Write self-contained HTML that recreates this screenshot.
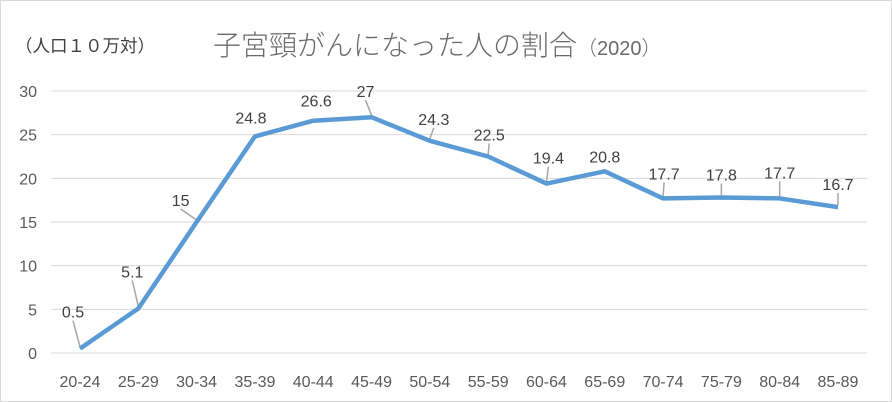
<!DOCTYPE html>
<html><head><meta charset="utf-8"><style>
body{margin:0;background:#fff;}
svg{display:block;font-family:"Liberation Sans","Noto Sans CJK JP",sans-serif;}
</style></head><body>
<svg id="c" width="892" height="402">
<rect x="0.5" y="0.5" width="891" height="401" fill="#fff" stroke="#d9d9d9"/>
<text x="15" y="52" font-size="17.5" fill="#404040">（人口１０万対）</text>
<text x="213" y="55" font-size="28" fill="#6a6a6a" font-weight="300">子宮頸がんになった人の割合<tspan font-size="20">（2020）</tspan></text>
<g id="grid"></g><g id="ylab"></g><g id="xlab"></g><g id="leaders"></g>
<path id="line" fill="none" stroke="#5b9bd5" stroke-width="4.5" stroke-linejoin="round"/>
<g id="vals"></g>
</svg>
<script>
const categories=["20-24","25-29","30-34","35-39","40-44","45-49","50-54","55-59","60-64","65-69","70-74","75-79","80-84","85-89"];
const values=[0.5,5.1,15,24.8,26.6,27,24.3,22.5,19.4,20.8,17.7,17.8,17.7,16.7];
const yTicks=[0,5,10,15,20,25,30];
const labelDx=[-7,-6,-16,-4,3,-6,4,1,2,0,1,0,0,0];
const labelDy=[-37,-37,-22,-19,-20,-26,-22,-22,-26,-15,-25,-23,-26,-23];
const NS="http://www.w3.org/2000/svg";
const x=i=>80+i*(838-80)/13, y=v=>353-v*(353-91)/30;
function mk(t,a,p){const e=document.createElementNS(NS,t);for(const k in a)e.setAttribute(k,a[k]);document.getElementById(p).appendChild(e);return e;}
yTicks.forEach(t=>{
 const g=mk('line',{x1:51,x2:867,y1:y(t),y2:y(t),stroke:'#d9d9d9','stroke-width':1},'grid');
 
 
 const l=mk('text',{x:37,y:y(t)+6,'font-size':16,fill:'#595959','text-anchor':'end'},'ylab');l.textContent=t;
 
 
});
categories.forEach((c,i)=>{
 const l=mk('text',{x:x(i),y:387,'font-size':16,fill:'#595959','text-anchor':'middle'},'xlab');l.textContent=c;
 
 
});
document.getElementById('line').setAttribute('d',values.map((v,i)=>(i?'L':'M')+x(i)+','+y(v)).join(''));
values.forEach((v,i)=>{
 const px=x(i),py=y(v),lx=px+labelDx[i],ly=py+labelDy[i];
 if(labelDy[i]<=-22){
  const ld=mk('line',{x1:lx,y1:ly+9,x2:px,y2:py-2,stroke:'#a6a6a6','stroke-width':1.5},'leaders');
  
  
 }
 const t=mk('text',{x:lx,y:ly+6,'font-size':16,fill:'#404040','text-anchor':'middle'},'vals');t.textContent=v;
 
 
});
</script>
</body></html>
